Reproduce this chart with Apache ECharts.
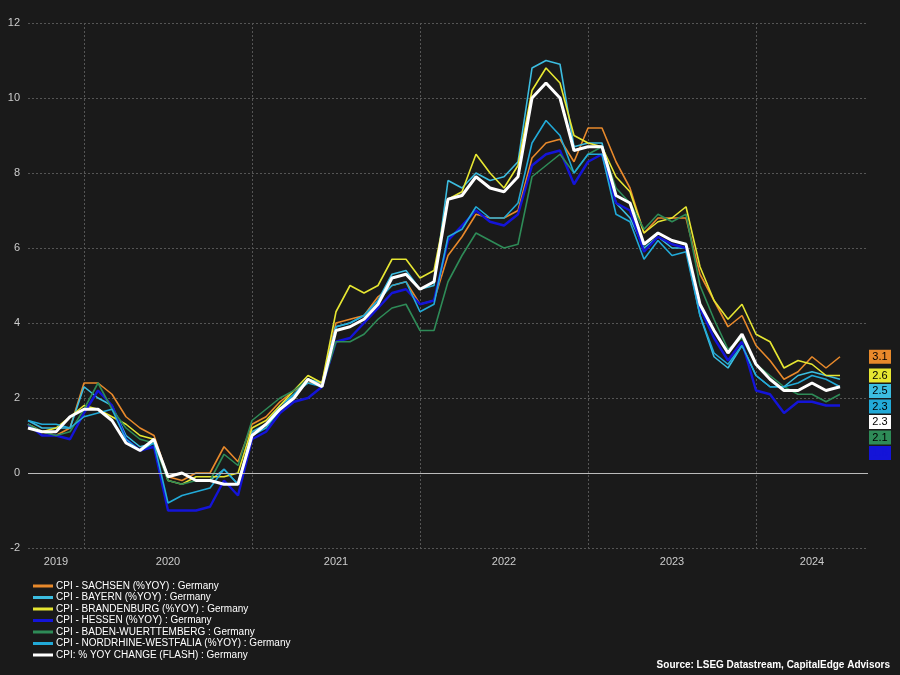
<!DOCTYPE html>
<html>
<head>
<meta charset="utf-8">
<script src="https://cdn.jsdelivr.net/npm/echarts@6/dist/echarts.min.js"></script>
<style>
html,body{margin:0;padding:0;background:#1a1a1a;}
#chart{width:900px;height:675px;}
</style>
</head>
<body>
<div id="chart"></div>
<script>
// months Sep 2019 .. Sep 2024 (data to Jul 2024)
var months = [];
for (var y = 2019; y <= 2024; y++) {
	for (var m = 1; m <= 12; m++) {
		if (y == 2019 && m < 9) continue;
		if (y == 2024 && m > 9) continue;
		months.push(y + '-' + (m < 10 ? '0' + m : m));
	}
}
// year labels placed at these months
var yearLabelMonths = ['2019-11', '2020-07', '2021-07', '2022-07', '2023-07', '2024-05'];

var sachsen = [1.3,1.1,1.0,1.2, 2.4,2.4,2.1,1.5,1.2,1.0,-0.1,-0.2,0.0,0.0,0.7,0.3, 1.3,1.5,1.9,2.2,2.4,2.4,4.0,4.1,4.2,4.7,5.0,5.1, 4.5,4.6,5.8,6.3,6.9,6.8,6.8,7.0,8.4,8.8,8.9,8.3, 9.2,9.2,8.3,7.6,6.4,6.8,6.8,6.8,5.3,4.6,3.9,4.2, 3.4,3.0,2.5,2.7,3.1,2.8,3.1];
var bayern = [1.4,1.2,1.2,1.2, 2.3,2.0,1.8,1.0,0.7,0.8,-0.1,0.0,-0.2,-0.2,0.1,-0.3, 1.1,1.3,1.8,2.1,2.5,2.4,3.9,4.0,4.2,4.6,5.3,5.4, 4.9,5.0,7.8,7.6,8.0,7.8,7.9,8.3,10.8,11.0,10.9,8.7, 8.8,8.8,7.2,6.8,6.0,6.3,6.0,6.0,4.2,3.1,2.8,3.4, 2.6,2.3,2.3,2.6,2.7,2.6,2.5];
var brandenburg = [1.3,1.1,1.2,1.5, 1.8,1.7,1.5,1.3,1.0,0.9,-0.2,-0.3,-0.1,-0.1,-0.1,0.0, 1.2,1.4,1.8,2.2,2.6,2.4,4.3,5.0,4.8,5.0,5.7,5.7, 5.2,5.4,7.3,7.5,8.5,8.0,7.6,8.2,10.2,10.8,10.4,9.0, 8.8,8.7,7.9,7.5,6.4,6.7,6.8,7.1,5.5,4.6,4.1,4.5, 3.7,3.5,2.8,3.0,2.9,2.6,2.6];
var hessen = [1.3,1.0,1.0,0.9, 1.6,2.2,1.8,0.9,0.6,0.7,-1.0,-1.0,-1.0,-0.9,-0.2,-0.6, 0.9,1.1,1.6,1.9,2.0,2.3,3.5,3.6,4.0,4.4,4.8,4.9, 4.5,4.6,6.2,6.6,7.0,6.7,6.6,6.9,8.2,8.5,8.6,7.7, 8.3,8.5,7.2,7.0,5.9,6.3,6.1,6.0,4.4,3.6,3.0,3.5, 2.2,2.1,1.6,1.9,1.9,1.8,1.8];
var bw = [1.3,1.1,1.0,1.1, 1.7,2.4,1.7,1.2,0.9,0.8,-0.2,-0.3,-0.2,-0.2,0.5,0.2, 1.4,1.7,2.0,2.2,2.5,2.3,3.5,3.5,3.7,4.1,4.4,4.5, 3.8,3.8,5.1,5.8,6.4,6.2,6.0,6.1,7.9,8.2,8.5,8.0, 8.5,8.7,7.6,7.2,6.5,6.9,6.7,6.9,5.0,4.1,3.3,3.6, 2.9,2.6,2.3,2.1,2.1,1.9,2.1];
var nrw = [1.4,1.3,1.3,1.2, 1.5,1.6,1.7,0.9,0.6,0.8,-0.8,-0.6,-0.5,-0.4,0.1,-0.3, 1.0,1.2,1.7,2.1,2.4,2.3,3.9,4.0,4.2,4.6,5.0,5.1, 4.3,4.5,6.3,6.5,7.1,6.8,6.8,7.2,8.8,9.4,9.0,8.0, 8.5,8.5,6.9,6.7,5.7,6.2,5.8,5.9,4.2,3.2,2.9,3.4, 2.6,2.3,2.3,2.4,2.6,2.5,2.3];
var flash = [1.2,1.1,1.1,1.5, 1.7,1.7,1.4,0.8,0.6,0.9,-0.1,0.0,-0.2,-0.2,-0.3,-0.3, 1.0,1.3,1.7,2.0,2.5,2.3,3.8,3.9,4.1,4.5,5.2,5.3, 4.9,5.1,7.3,7.4,7.9,7.6,7.5,7.9,10.0,10.4,10.0,8.6, 8.7,8.7,7.4,7.2,6.1,6.4,6.2,6.1,4.5,3.8,3.2,3.7, 2.9,2.5,2.2,2.2,2.4,2.2,2.3];

var yTicks = [-2, 0, 2, 4, 6, 8, 10, 12];

var seriesDefs = [
	{name: 'CPI - SACHSEN (%YOY) : Germany', data: sachsen, color: '#e8892b', width: 1.6, text: '#000'},
	{name: 'CPI - BAYERN (%YOY) : Germany', data: bayern, color: '#3cbde0', width: 1.6, text: '#000'},
	{name: 'CPI - BRANDENBURG (%YOY) : Germany', data: brandenburg, color: '#e6e632', width: 1.6, text: '#000'},
	{name: 'CPI - HESSEN (%YOY) : Germany', data: hessen, color: '#1414d8', width: 2.4, text: '#1414d8'},
	{name: 'CPI - BADEN-WUERTTEMBERG : Germany', data: bw, color: '#2e8b57', width: 1.6, text: '#000'},
	{name: 'CPI - NORDRHINE-WESTFALIA (%YOY) : Germany', data: nrw, color: '#22aad8', width: 1.6, text: '#000'},
	{name: 'CPI: % YOY CHANGE (FLASH) : Germany', data: flash, color: '#ffffff', width: 3, text: '#000'}
];

var chart = echarts.init(document.getElementById('chart'));
var series = seriesDefs.map(function (d, i) {
	var s = {
		name: d.name,
		type: 'line',
		data: d.data,
		symbol: 'none',
		z: i == 6 ? 5 : 3,
		lineStyle: {color: d.color, width: d.width},
		itemStyle: {color: d.color}
	};
	if (i == 0) {
		s.markLine = {
			silent: true, symbol: 'none', label: {show: false},
			lineStyle: {color: '#bbbbbb', type: 'solid', width: 1},
			data: [{yAxis: 0}]
		};
	}
	return s;
});

var option = {
	backgroundColor: '#1a1a1a',
	animation: false,
	textStyle: {fontFamily: 'Arial, Liberation Sans, sans-serif'},
	grid: {left: 28, right: 32, top: 23, bottom: 127},
	legend: {
		orient: 'vertical', left: 28, top: 576,
		itemWidth: 20, itemHeight: 3, itemGap: 1.5,
		icon: 'rect', selectedMode: false,
		textStyle: {color: '#ffffff', fontSize: 10, padding: [0, 0, 0, -2]},
		data: seriesDefs.map(function (d) { return d.name; })
	},
	xAxis: {
		type: 'category', boundaryGap: false, data: months,
		axisLine: {show: false}, axisTick: {show: false},
		axisLabel: {
			color: '#cccccc', fontSize: 11, margin: 8,
			interval: function (i, v) { return yearLabelMonths.indexOf(v) >= 0; },
			formatter: function (v) { return v.slice(0, 4); }
		},
		splitLine: {
			show: true,
			interval: function (i, v) { return v.slice(5) == '01'; },
			lineStyle: {color: '#555555', type: [2, 2], width: 1}
		}
	},
	yAxis: {
		type: 'value', min: yTicks[0], max: yTicks[yTicks.length - 1], interval: 2,
		axisLine: {show: false}, axisTick: {show: false},
		axisLabel: {color: '#cccccc', fontSize: 11, margin: 8},
		splitLine: {lineStyle: {color: '#555555', type: [2, 2], width: 1}}
	},
	series: series
};
chart.setOption(option);

// last-value tags on the right, pushed apart so they don't overlap
var tags = seriesDefs.map(function (d) {
	var v = d.data[d.data.length - 1];
	return {v: v, d: d, y: chart.convertToPixel({yAxisIndex: 0}, v)};
}).sort(function (a, b) { return b.v - a.v; });
var boxH = 14, gap = 1.5;
for (var i = 1; i < tags.length; i++) {
	if (tags[i].y < tags[i - 1].y + boxH + gap) tags[i].y = tags[i - 1].y + boxH + gap;
}
var graphics = tags.map(function (t) {
	return {
		type: 'group', left: 869, top: t.y - boxH / 2,
		children: [
			{type: 'rect', shape: {x: 0, y: 0, width: 22, height: boxH}, style: {fill: t.d.color}},
			{type: 'text', x: 11, y: boxH / 2, style: {text: t.v.toFixed(1), fill: t.d.text, fontSize: 11, align: 'center', verticalAlign: 'middle'}}
		]
	};
});
graphics.push({
	type: 'text', right: 10, top: 660,
	style: {text: 'Source: LSEG Datastream, CapitalEdge Advisors', fill: '#ffffff', fontSize: 10, fontWeight: 'bold'}
});
chart.setOption({graphic: graphics});
</script>
</body>
</html>
